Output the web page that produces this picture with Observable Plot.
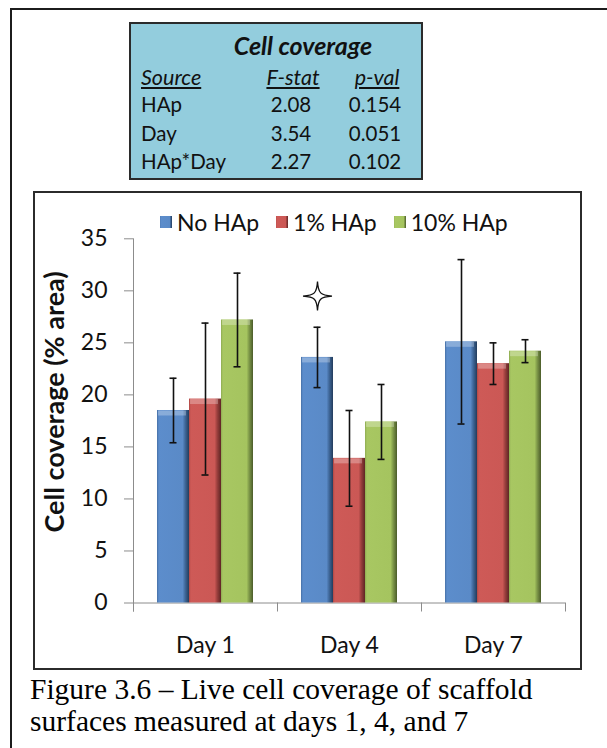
<!DOCTYPE html>
<html>
<head>
<meta charset="utf-8">
<script src="https://cdn.jsdelivr.net/npm/d3@7"></script>
<script src="https://cdn.jsdelivr.net/npm/@observablehq/plot@0.6"></script>
<style>
  body { margin: 0; background: #fff; width: 607px; height: 748px; overflow: hidden; position: relative; font-family: Lato, sans-serif; color: #111; }
  #outer { position: absolute; left: 10px; top: 8px; width: 700px; height: 800px; border-left: 2px solid #1c1c1c; border-top: 2px solid #1c1c1c; }
  #anova { position: absolute; left: 129px; top: 22px; width: 294px; height: 158px; box-sizing: border-box; background: #93cddd; border: 2px solid #2b2b2b; }
  #anova div { position: absolute; line-height: 1; white-space: nowrap; }
  #anova .title { font-weight: bold; font-style: italic; font-size: 25px; transform: translateX(-50%); }
  #anova .head { font-style: italic; font-size: 21.5px; text-decoration: underline; text-underline-offset: 2px; }
  #anova .cell { font-size: 20.5px; }
  #anova .mid { transform: translateX(-50%); }
  #chartbox { position: absolute; left: 33px; top: 191px; width: 549px; height: 479px; box-sizing: border-box; border: 2px solid #2b2b2b; }
  #legend { position: absolute; left: 160px; top: 205px; }
  #legend .lg-swatch { margin-right: 17px !important; }
  #legend .lg-swatch > svg { margin-right: 5px !important; }
  #chart { position: absolute; left: 34px; top: 228px; }
  #caption { position: absolute; left: 30px; top: 673px; font-family: "Liberation Serif", serif; font-size: 29.5px; line-height: 32px; color: #000; white-space: nowrap; }
</style>
</head>
<body>
<svg width="0" height="0" style="position:absolute">
  <defs>
    <linearGradient id="bevel-blue" x1="0" x2="1" y1="0" y2="0">
      <stop offset="0" stop-color="#4670a6"/>
      <stop offset="0.06" stop-color="#5c8dcc"/>
      <stop offset="0.80" stop-color="#5a8ac7"/>
      <stop offset="0.88" stop-color="#3f6799"/>
      <stop offset="1" stop-color="#233c5c"/>
    </linearGradient>
    <linearGradient id="bevel-red" x1="0" x2="1" y1="0" y2="0">
      <stop offset="0" stop-color="#b04845"/>
      <stop offset="0.06" stop-color="#ce5a57"/>
      <stop offset="0.80" stop-color="#cb5855"/>
      <stop offset="0.88" stop-color="#9a3f3d"/>
      <stop offset="1" stop-color="#5e2524"/>
    </linearGradient>
    <linearGradient id="bevel-green" x1="0" x2="1" y1="0" y2="0">
      <stop offset="0" stop-color="#8eab52"/>
      <stop offset="0.06" stop-color="#a8c762"/>
      <stop offset="0.80" stop-color="#a5c45f"/>
      <stop offset="0.88" stop-color="#7d9748"/>
      <stop offset="1" stop-color="#4b5c2a"/>
    </linearGradient>
  </defs>
</svg>

<div id="outer"></div>
<div id="anova"></div>
<div id="chartbox"></div>
<div id="legend"></div>
<div id="chart"></div>
<div id="caption">Figure 3.6 – Live cell coverage of scaffold<br>surfaces measured at days 1, 4, and 7</div>

<script>
// Two-way ANOVA summary for cell coverage
const anovaTitle = "Cell coverage";
const anovaHeaders = ["Source", "F-stat", "p-val"];
const anovaSources = ["HAp", "Day", "HAp*Day"];
const anovaF = ["2.08", "3.54", "2.27"];
const anovaP = ["0.154", "0.051", "0.102"];

// Mean cell coverage (% area) and error per time point
const days = ["Day 1", "Day 4", "Day 7"];
const groups = ["No HAp", "1% HAp", "10% HAp"];
const noHAp = [18.5, 23.6, 25.1];
const oneHAp = [19.6, 13.9, 23.0];
const tenHAp = [27.2, 17.4, 24.2];
const noHApErr = [3.1, 2.9, 7.9];
const oneHApErr = [7.3, 4.6, 2.0];
const tenHApErr = [4.5, 3.6, 1.1];
const yTicks = [0, 5, 10, 15, 20, 25, 30, 35];
const yLabel = "Cell coverage (% area)";

// Marker for the notable group
const flagged = [{day: "Day 4", group: "No HAp", at: 29.5}];

const fills = ["url(#bevel-blue)", "url(#bevel-red)", "url(#bevel-green)"];

// ---- ANOVA box ----
const anova = document.getElementById("anova");
function put(cls, text, left, top) {
  const d = document.createElement("div");
  d.className = cls;
  d.textContent = text;
  d.style.left = left + "px";
  d.style.top = top + "px";
  anova.appendChild(d);
}
// coordinates are relative to the box's padding edge
put("title", anovaTitle, 172, 9);
put("head", anovaHeaders[0], 10, 43);
put("head mid", anovaHeaders[1], 162, 43);
put("head mid", anovaHeaders[2], 246, 43);
const rowTops = [70, 98.5, 126.5];
anovaSources.forEach((s, i) => {
  put("cell", s, 10, rowTops[i]);
  put("cell mid", anovaF[i], 160, rowTops[i]);
  put("cell mid", anovaP[i], 244, rowTops[i]);
});

// ---- bar chart ----
const series = [noHAp, oneHAp, tenHAp];
const errs = [noHApErr, oneHApErr, tenHApErr];
const bars = [];
days.forEach((day, i) => {
  groups.forEach((group, j) => {
    bars.push({day, group, value: series[j][i], err: errs[j][i]});
  });
});

const W = 546, H = 440;
const mLeft = 98, mRight = 14, mTop = 10.3, mBottom = 65.5;
const innerH = H - mTop - mBottom;

// concave four-pointed star
const star4 = {
  draw(ctx, size) {
    const r = Math.sqrt(size / Math.PI);
    const a = 0.05 * r, b = 0.2 * r;
    ctx.moveTo(0, -r);
    ctx.bezierCurveTo(a, -b, b, -a, r, 0);
    ctx.bezierCurveTo(b, a, a, b, 0, r);
    ctx.bezierCurveTo(-a, b, -b, a, -r, 0);
    ctx.bezierCurveTo(-b, -a, -a, -b, 0, -r);
    ctx.closePath();
  }
};

const axisGray = "#8c8c8c";

const chart = Plot.plot({
  width: W,
  height: H,
  marginLeft: mLeft,
  marginRight: mRight,
  marginTop: mTop,
  marginBottom: mBottom,
  style: {fontFamily: "Lato, sans-serif", background: "transparent", color: "#111", overflow: "visible"},
  fx: {domain: days, padding: 0, label: null},
  x: {domain: groups, paddingInner: 0, paddingOuter: 0.747, axis: null},
  y: {domain: [0, 35], label: null},
  color: {domain: groups, range: fills},
  marks: [
    // y axis line (runs a little below zero like the category ticks)
    Plot.frame({anchor: "left", facetAnchor: "left", stroke: axisGray, insetBottom: -8}),
    // category boundary ticks
    Plot.frame({anchor: "left", stroke: axisGray, insetTop: innerH, insetBottom: -8}),
    Plot.frame({anchor: "right", facetAnchor: "right", stroke: axisGray, insetTop: innerH, insetBottom: -8}),
    Plot.ruleY([0], {stroke: axisGray}),
    Plot.barY(bars, {fx: "day", x: "group", y: "value", fill: "group"}),
    // top bevel highlight
    Plot.tickY(bars, {fx: "day", x: "group", y: "value", stroke: "#fff", strokeOpacity: 0.28, strokeWidth: 5, dy: 2.5, insetLeft: 1, insetRight: 3}),
    // error bars
    Plot.ruleX(bars, {fx: "day", x: "group", y1: d => d.value - d.err, y2: d => d.value + d.err, stroke: "#111", strokeWidth: 1.6}),
    Plot.tickY(bars, {fx: "day", x: "group", y: d => d.value + d.err, stroke: "#111", strokeWidth: 1.6, insetLeft: 12.5, insetRight: 12.5}),
    Plot.tickY(bars, {fx: "day", x: "group", y: d => d.value - d.err, stroke: "#111", strokeWidth: 1.6, insetLeft: 12.5, insetRight: 12.5}),
    Plot.dot(flagged, {fx: "day", x: "group", y: "at", symbol: star4, r: 14.5, fill: "#fff", stroke: "#111", strokeWidth: 1.3}),
    Plot.axisY({ticks: yTicks, tickSize: 9, tickPadding: 17, stroke: axisGray, fill: "#111", fontSize: 23, label: null}),
    Plot.axisFx({anchor: "bottom", tickSize: 0, tickPadding: 34, fontSize: 23, label: null}),
    Plot.text([yLabel], {text: d => d, frameAnchor: "left", facetAnchor: "left", textAnchor: "middle", rotate: -90, dx: -78, dy: -19, fontWeight: "bold", fontSize: 27, fill: "#111"})
  ]
});
document.getElementById("chart").appendChild(chart);

const legend = Plot.legend({
  color: {type: "ordinal", domain: groups, range: fills},
  legend: "swatches",
  swatchSize: 12,
  className: "lg",
  style: {fontFamily: "Lato, sans-serif", fontSize: "23px", color: "#111"}
});
document.getElementById("legend").appendChild(legend);
</script>
</body>
</html>
